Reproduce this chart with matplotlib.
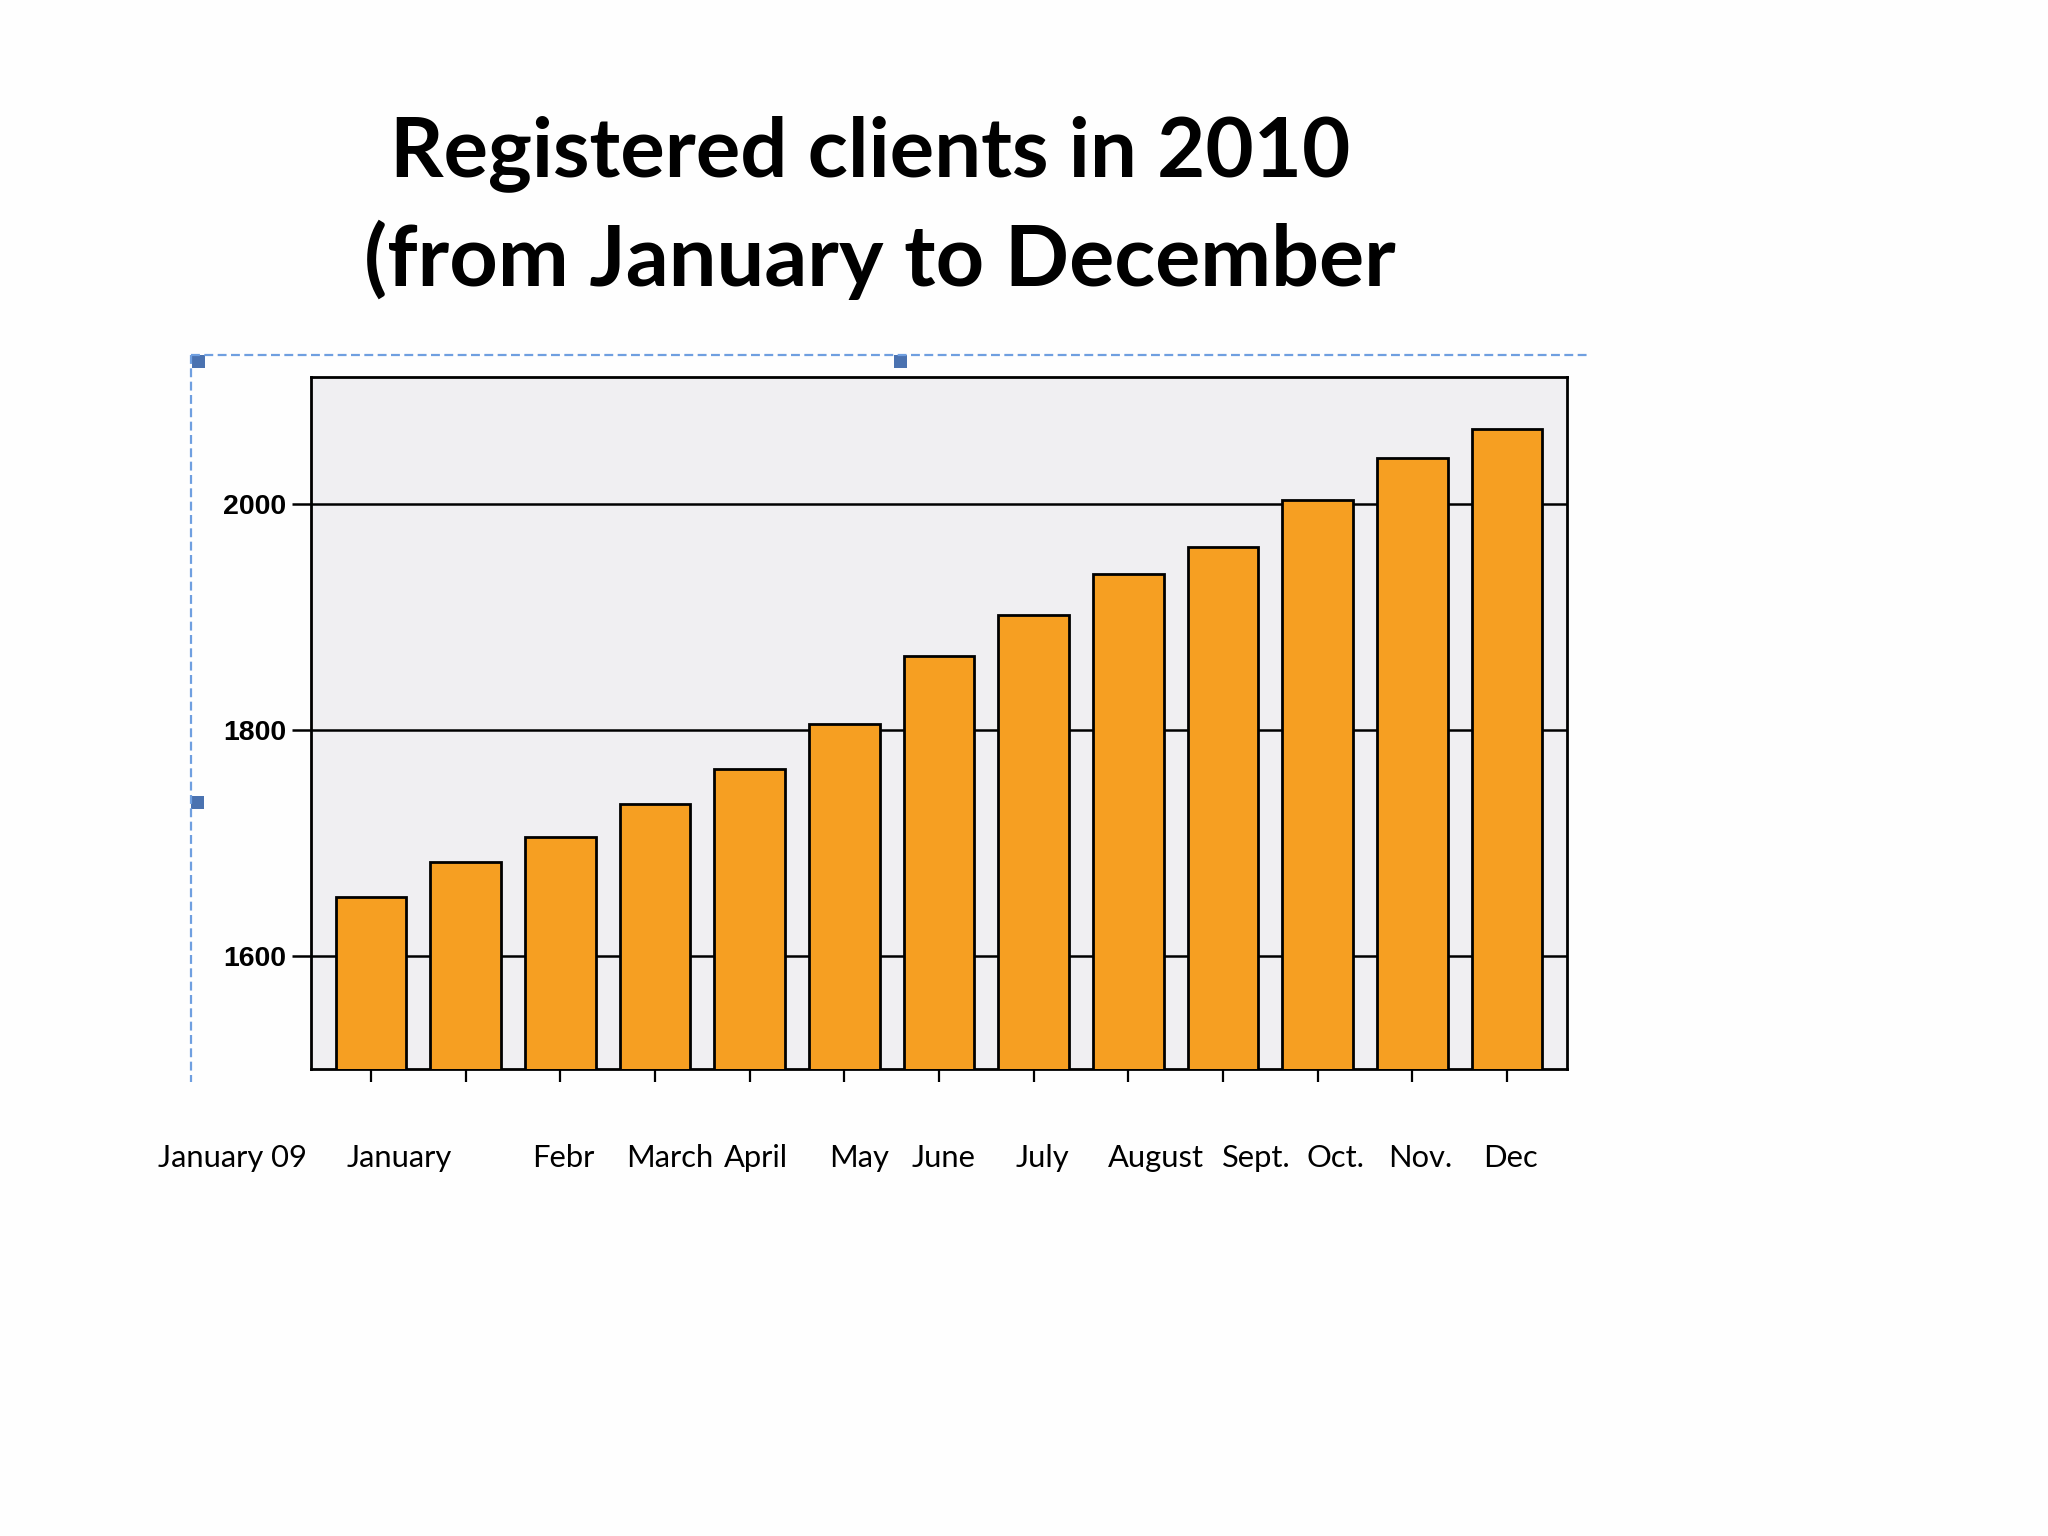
import matplotlib
matplotlib.use('Agg')
import matplotlib.pyplot as plt
from matplotlib.lines import Line2D
from matplotlib.patches import Rectangle

# ---- data ----
months = ["January 09", "January", "Febr", "March", "April", "May", "June",
          "July", "August", "Sept.", "Oct.", "Nov.", "Dec"]
clients = [1652, 1683, 1705, 1734, 1765, 1805, 1865, 1901, 1938, 1962, 2003, 2040, 2066]
yticks = [1600, 1800, 2000]
title_lines = ["Registered clients in 2010", "(from January to December"]

# ---- layout (pixels in a 2048x1536 canvas) ----
W, H = 2048, 1536
label_x_px = [232, 399, 563, 670, 756, 859, 944, 1042, 1156, 1256, 1335, 1420, 1510]
label_base_px = 1167
title_specs = [(870, 176.5, 960), (880, 285.5, 1031)]  # center x, baseline y, width


def fx(x):
    return x / W


def fy(y):
    return 1 - y / H


fig = plt.figure(figsize=(20.48, 15.36), dpi=100, facecolor='#FEFEFE')
renderer = fig.canvas.get_renderer()


def fit_text(x, y, s, target_w, fs0, **kw):
    t = fig.text(x, y, s, fontsize=fs0, **kw)
    w = t.get_window_extent(renderer).width
    t.set_fontsize(fs0 * target_w / w)
    return t


ax = fig.add_axes([fx(311), fy(1068.7), fx(1567 - 311), (1068.7 - 377) / H])
xs = list(range(len(clients)))
ax.bar(xs, clients, width=0.745, color='#F69F22', edgecolor='black',
       linewidth=2.0, zorder=3)
ax.set_xlim(-0.634, len(clients) - 1 + 0.634)
ax.set_ylim(1500, 2112)
ax.set_facecolor('#F0EFF2')
ax.set_yticks(yticks)
ax.grid(axis='y', color='black', linewidth=1.8)
ax.set_axisbelow(True)
ax.set_xticks(xs)
ax.set_xticklabels([])
ax.tick_params(axis='x', length=9.5, width=1.6, direction='out', color='black')
ax.tick_params(axis='y', length=14, width=1.8, pad=4, labelsize=20.5)
for lab in ax.get_yticklabels():
    lab.set_fontweight('bold')
    lab.set_fontfamily('Liberation Sans')
for sp in ax.spines.values():
    sp.set_linewidth(2.0)
    sp.set_color('black')

# month labels (placed freely below the axis as in the reference)
t0 = fit_text(fx(label_x_px[0]), fy(label_base_px), months[0], 149, 22,
              ha='center', va='baseline', family='Lato', color='black')
fs_lab = t0.get_fontsize()
for m, xp in zip(months[1:], label_x_px[1:]):
    fig.text(fx(xp), fy(label_base_px), m, fontsize=fs_lab, ha='center',
             va='baseline', family='Lato', color='black')

# title
for line, (cx, by, tw) in zip(title_lines, title_specs):
    fit_text(fx(cx), fy(by), line, tw, 60, ha='center', va='baseline',
             family='Lato', fontweight='bold', color='black')

# selection frame decorations
dash_col = '#6F9FE0'
fig.add_artist(Line2D([fx(191), fx(1591)], [fy(354.5), fy(354.5)],
                      transform=fig.transFigure, color=dash_col, lw=1.6,
                      dashes=(4, 2)))
fig.add_artist(Line2D([fx(191), fx(191)], [fy(354.5), fy(1082)],
                      transform=fig.transFigure, color=dash_col, lw=1.6,
                      dashes=(4, 2)))
for hx, hy in [(192, 355), (894, 355), (191, 796)]:
    fig.add_artist(Rectangle((fx(hx), fy(hy + 13)), 13 / W, 13 / H,
                             transform=fig.transFigure, color='#4A72B0', lw=0))

fig.savefig('out.png', dpi=100, facecolor=fig.get_facecolor())
